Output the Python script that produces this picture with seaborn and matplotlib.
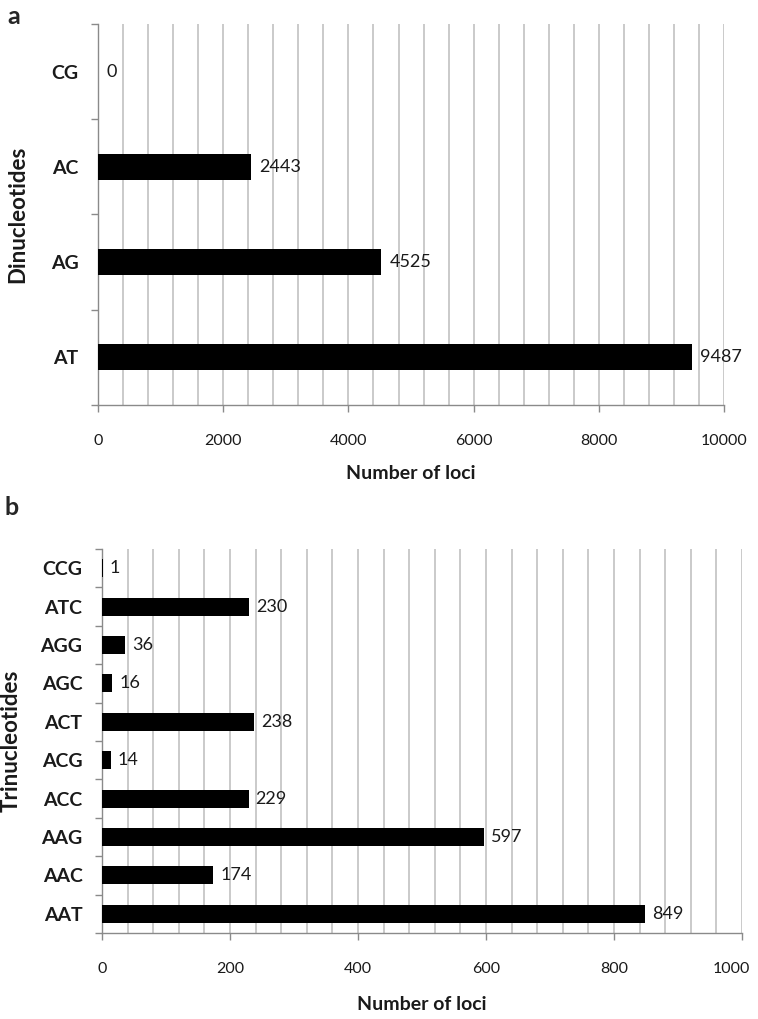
import numpy as np
import pandas as pd
import matplotlib
matplotlib.use("Agg")
import matplotlib.pyplot as plt
from matplotlib.ticker import MultipleLocator, FixedLocator
from matplotlib.transforms import offset_copy
import seaborn as sns

# ── Données ────────────────────────────────────────────────────────────────
di_motifs = ["CG", "AC", "AG", "AT"]
di_counts = [0, 2443, 4525, 9487]

tri_motifs = ["CCG", "ATC", "AGG", "AGC", "ACT", "ACG", "ACC", "AAG", "AAC", "AAT"]
tri_counts = [1, 230, 36, 16, 238, 14, 229, 597, 174, 849]

# ── Style ──────────────────────────────────────────────────────────────────
sns.set_theme(style="white")
plt.rcParams["font.family"] = ["Lato", "DejaVu Sans"]

GRID = "#c6c6c6"
AXIS = "#8a8a8a"
TXT = "#1a1a1a"

fig = plt.figure(figsize=(7.58, 10.19), dpi=100)
ax_a = fig.add_axes([0.1293, 0.6026, 0.826, 0.3738])
ax_b = fig.add_axes([0.1346, 0.0844, 0.8443, 0.3768])


def draw_panel(ax, motifs, counts, xmax, major, minor, bar_w, ylabel,
               val_pad, val_dy):
    df = pd.DataFrame({"motif": motifs, "count": counts})
    sns.barplot(data=df, x="count", y="motif", orient="h", order=motifs,
                color="black", saturation=1, width=bar_w, linewidth=0,
                ax=ax, zorder=3)
    labels = ax.bar_label(ax.containers[0], padding=val_pad, fontsize=13,
                          color=TXT)
    # étiquettes légèrement décalées vers le bas (style Excel)
    for t in labels:
        t.set_transform(offset_copy(t.get_transform(), fig=fig,
                                    x=0, y=-val_dy, units="points"))

    n = len(motifs)
    ax.set_xlim(0, xmax)
    ax.set_ylim(n - 0.5, -0.5)
    ax.xaxis.set_major_locator(MultipleLocator(major))
    ax.xaxis.set_minor_locator(MultipleLocator(minor))
    ax.grid(axis="x", which="both", color=GRID, linewidth=1.3, zorder=0)
    ax.grid(axis="y", visible=False)

    ax.yaxis.set_minor_locator(FixedLocator(np.arange(-0.5, n, 1.0)))
    ax.tick_params(axis="y", which="major", length=0, pad=14,
                   labelsize=14, labelcolor=TXT)
    ax.tick_params(axis="y", which="minor", length=5, width=1, color=AXIS,
                   direction="out", left=True)
    ax.tick_params(axis="x", which="major", length=5, width=1, color=AXIS,
                   direction="out", bottom=True, pad=16,
                   labelsize=11.5, labelcolor=TXT)
    ax.tick_params(axis="x", which="minor", length=0)
    for lbl in ax.get_yticklabels():
        lbl.set_fontweight("bold")

    for side in ["top", "right"]:
        ax.spines[side].set_visible(False)
    for side in ["left", "bottom"]:
        ax.spines[side].set_color(AXIS)
        ax.spines[side].set_linewidth(1)

    ax.set_ylabel(ylabel, fontsize=16, fontweight="bold", color=TXT)
    ax.set_xlabel("Number of loci", fontsize=14, fontweight="bold",
                  color=TXT)


draw_panel(ax_a, di_motifs, di_counts, 10000, 2000, 400, 0.27,
           "Dinucleotides", 6, 4)
ax_a.xaxis.labelpad = 12
ax_a.yaxis.labelpad = 16

draw_panel(ax_b, tri_motifs, tri_counts, 1000, 200, 40, 0.47,
           "Trinucleotides", 5, 1)
ax_b.xaxis.labelpad = 14
ax_b.yaxis.labelpad = 14

# le dernier libellé (1000) est décalé vers la gauche pour rester dans l'image
fig.canvas.draw()
last = ax_b.xaxis.get_major_ticks()[-1]
for tk in ax_b.xaxis.get_major_ticks():
    if abs(tk.get_loc() - 1000) < 1e-6:
        last = tk
last.label1.set_transform(offset_copy(last.label1.get_transform(), fig=fig,
                                      x=-8, y=0, units="points"))

fig.text(0.01, 0.995, "a", fontsize=18, fontweight="bold", va="top")
fig.text(0.006, 0.513, "b", fontsize=18, fontweight="bold", va="top")

fig.savefig("out.png", dpi=100, facecolor="white")
